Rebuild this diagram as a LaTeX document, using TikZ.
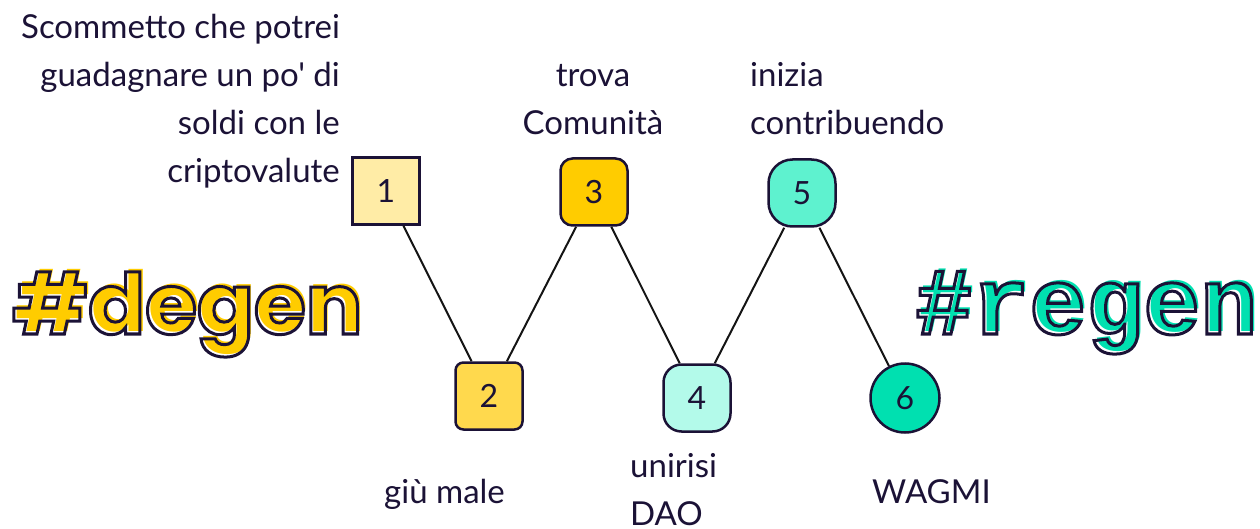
\documentclass[tikz,border=0pt]{standalone}
\usepackage{fontspec}
\setmainfont{Lato}
\newfontfamily\labelfont{Lato}
\newfontfamily\degenfont{Poppins}
\newfontfamily\regenfont{Liberation Mono}
\usetikzlibrary{positioning}

\definecolor{ink}{HTML}{1B1236}
\definecolor{wire}{HTML}{141414}
\definecolor{sunA}{HTML}{FFECA6}
\definecolor{sunB}{HTML}{FFD94D}
\definecolor{sunC}{HTML}{FFCC00}
\definecolor{mintA}{HTML}{B3FAEA}
\definecolor{mintB}{HTML}{5EF2CF}
\definecolor{mintC}{HTML}{00E0B0}

% stroke only text
\newcommand{\hollow}[1]{\special{pdf:literal direct 1 Tr 3 w}#1\special{pdf:literal direct 0 Tr 1 w}}

\tikzset{
    stage/.style={draw=ink, line width=2.5pt, minimum size=67pt, inner sep=0pt,
        text=ink, font=\labelfont\fontsize{32}{32}\selectfont},
    caption/.style={text=ink, inner sep=0pt, font=\labelfont\fontsize{33}{48}\selectfont},
    tag/.style={inner sep=0pt, anchor=base west}
}

\begin{document}
\begin{tikzpicture}[x=1pt, y=-1pt]
    \useasboundingbox (0,0) rectangle (1260,529);

    \node[stage, fill=sunA] (n1) at (386,191) {1};
    \node[stage, fill=sunB, rounded corners=8pt] (n2) at (489,396) {2};
    \node[stage, fill=sunC, rounded corners=12pt] (n3) at (594,192) {3};
    \node[stage, fill=mintA, rounded corners=18pt] (n4) at (697,398) {4};
    \node[stage, fill=mintB, rounded corners=24pt] (n5) at (802,193) {5};
    \node[stage, fill=mintC, circle, minimum size=69pt] (n6) at (905,398) {6};

    \foreach \a/\b in {1/2,2/3,3/4,4/5,5/6}
        \draw[wire, line width=2pt] (n\a) -- (n\b);

    % captions (base = last line)
    \node[caption, align=right, anchor=base east] (c1) at (340,183)
        {Scommetto che potrei\\guadagnare un po' di\\soldi con le\\criptovalute};
    \node[caption, anchor=base west] (c2) at (384,503) {giù male};
    \node[caption, align=center, anchor=base] (c3) at (593,135) {trova\\Comunità};
    \node[caption, align=left, anchor=base west] (c4) at (630,525) {unirisi\\DAO};
    \node[caption, align=left, anchor=base west] (c5) at (750,135) {inizia\\contribuendo};
    \node[caption, anchor=base west] (c6) at (872,503) {WAGMI};

    % hashtags
    \node[tag, text=sunC, font=\degenfont\bfseries\fontsize{84}{84}\selectfont] (degenfill) at (15,331) {\#degen};
    \node[tag, text=ink, font=\degenfont\bfseries\fontsize{84}{84}\selectfont] (degen) at (12,334) {\hollow{\#degen}};
    \node[tag, text=mintC, font=\regenfont\bfseries\fontsize{95}{95}\selectfont] (regenfill) at (918,331) {\#regen};
    \node[tag, text=ink, font=\regenfont\bfseries\fontsize{95}{95}\selectfont] (regen) at (915,334) {\hollow{\#regen}};
\end{tikzpicture}
\end{document}
